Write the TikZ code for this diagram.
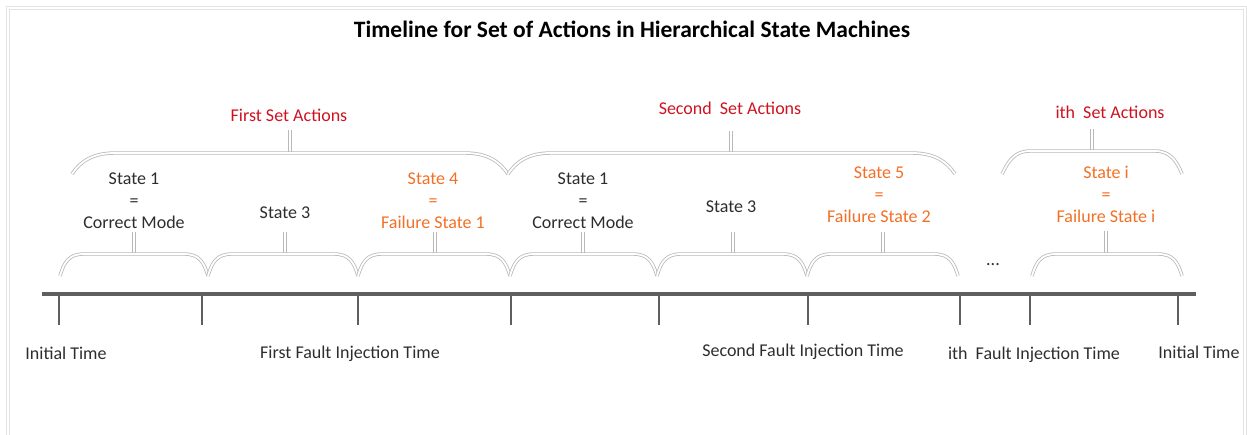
\documentclass[tikz,border=0pt]{standalone}
\usepackage{fontspec}
\setmainfont{Carlito}

\definecolor{setred}{RGB}{206,18,32}
\definecolor{failorange}{RGB}{242,112,38}
\definecolor{txtgray}{RGB}{45,45,45}
\definecolor{axisgray}{RGB}{95,95,95}

\begin{document}
\begin{tikzpicture}[x=1pt, y=-1pt,
    every node/.style={font=\fontsize{18}{22}\selectfont, text=txtgray, align=center, inner sep=0pt},
    brace/.style={draw=gray!55, double=white, double distance=1.8pt, line width=0.8pt},
    frame/.style={draw=gray!22, double=white, double distance=2pt, line width=1pt},
    tick/.style={axisgray, line width=2.6pt},
    setlabel/.style={text=setred},
    faillabel/.style={text=failorange}]

    \useasboundingbox (0,0) rectangle (1247,434);

    %cadre
    \draw[frame] (8,440) -- (8,8) -- (1245,8) -- (1245,440);

    %titre
    \node[font=\fontsize{23.5}{28}\selectfont\bfseries, text=black] (title) at (632,29) {Timeline for Set of Actions in Hierarchical State Machines};

    %axe
    \draw[axisgray, line width=3.6pt] (42,294) -- (1196,294);
    \draw[tick] (59,294) -- (59,325);
    \draw[tick] (202,294) -- (202,325);
    \draw[tick] (358,294) -- (358,325);
    \draw[tick] (511,294) -- (511,325);
    \draw[tick] (659,294) -- (659,325);
    \draw[tick] (808,294) -- (808,325);
    \draw[tick] (960,294) -- (960,325);
    \draw[tick] (1030,294) -- (1030,325);
    \draw[tick] (1178,294) -- (1178,325);

    %temps
    \node (t0) at (66,353) {Initial Time};
    \node (t1) at (350,354) {First Fault Injection Time};
    \node (t2) at (803,352) {Second Fault Injection Time};
    \node (ti) at (1034,355) {ith\ \ Fault Injection Time};
    \node (tend) at (1199,352) {Initial Time};

    %accolades etats
    \draw[brace] (134,254) -- (134,232);
    \draw[brace] (285,254) -- (285,232);
    \draw[brace] (435,254) -- (435,232);
    \draw[brace] (583,254) -- (583,232);
    \draw[brace] (733,254) -- (733,232);
    \draw[brace] (883,254) -- (883,232);
    \draw[brace] (1106,254) -- (1106,231);
    \draw[brace] (60,276) .. controls (64,262) and (69,254) .. (84,254) -- (184,254) .. controls (199,254) and (204,262) .. (208,276);
    \draw[brace] (208,276) .. controls (212,262) and (217,254) .. (232,254) -- (334,254) .. controls (349,254) and (354,262) .. (358,276);
    \draw[brace] (358,276) .. controls (362,262) and (367,254) .. (382,254) -- (486,254) .. controls (501,254) and (506,262) .. (510,276);
    \draw[brace] (510,276) .. controls (514,262) and (519,254) .. (534,254) -- (633,254) .. controls (648,254) and (653,262) .. (657,276);
    \draw[brace] (657,276) .. controls (661,262) and (666,254) .. (681,254) -- (783,254) .. controls (798,254) and (803,262) .. (807,276);
    \draw[brace] (807,276) .. controls (811,262) and (816,254) .. (831,254) -- (934,254) .. controls (949,254) and (954,262) .. (958,276);
    \draw[brace] (1032,276) .. controls (1036,262) and (1041,254) .. (1056,254) -- (1158,254) .. controls (1173,254) and (1178,262) .. (1182,276);

    \node (dots) at (993,265) {...};

    %accolades ensembles
    \draw[brace] (290,153) -- (290,130);
    \draw[brace] (731,153) -- (731,131);
    \draw[brace] (1092,151) -- (1092,129);
    \draw[brace] (72,174) .. controls (80,162) and (92,153) .. (115,153) -- (465,153) .. controls (488,153) and (500,162) .. (508,174);
    \draw[brace] (508,174) .. controls (516,162) and (528,153) .. (551,153) -- (912,153) .. controls (935,153) and (947,162) .. (955,174);
    \draw[brace] (1002,174) .. controls (1008,162) and (1014,151) .. (1030,151) -- (1155,151) .. controls (1171,151) and (1177,162) .. (1182,174);

    %ensembles
    \node[setlabel] (set1) at (289,115) {First Set Actions};
    \node[setlabel] (set2) at (730,108) {Second\ \ Set Actions};
    \node[setlabel] (seti) at (1110,112) {ith\ \ Set Actions};

    %etats
    \node (s1a) at (134,201) {State 1\\=\\Correct Mode};
    \node (s3a) at (285,213) {State 3};
    \node[faillabel] (s4) at (433,201) {State 4\\=\\Failure State 1};
    \node (s1b) at (583,201) {State 1\\=\\Correct Mode};
    \node (s3b) at (731,207) {State 3};
    \node[faillabel] (s5) at (879,195) {State 5\\=\\Failure State 2};
    \node[faillabel] (si) at (1106,194) {State i\\=\\Failure State i};

\end{tikzpicture}
\end{document}
